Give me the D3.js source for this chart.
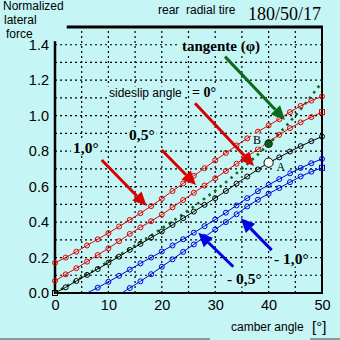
<!DOCTYPE html>
<html><head><meta charset="utf-8">
<script src="https://cdn.jsdelivr.net/npm/d3@7"></script>
<style>
html,body{margin:0;padding:0;background:#c6f5f5;}
svg{display:block;}
text{white-space:pre;}
</style></head><body>
<svg id="chart" width="340" height="340"></svg>
<script>
// Camber angle steps (degrees) shared by the full-range curves
const camber = [0,2,4,6,8,10,12,14,16,18,20,22,24,26,28,30,32,34,36,38,40,42,44,46,48,50];

// Normalized lateral force per sideslip angle
const slipPos10 = [0.170,0.200,0.233,0.268,0.303,0.338,0.375,0.412,0.450,0.490,0.532,0.575,0.618,0.661,0.704,0.748,0.790,0.832,0.872,0.910,0.945,0.980,1.020,1.055,1.085,1.108];
const slipPos05 = [0.068,0.105,0.140,0.177,0.214,0.252,0.292,0.333,0.370,0.405,0.442,0.483,0.524,0.565,0.606,0.647,0.688,0.729,0.770,0.811,0.852,0.892,0.930,0.962,0.992,1.020];
const slipZero  = [0,0.032,0.068,0.102,0.135,0.171,0.205,0.243,0.277,0.312,0.347,0.384,0.422,0.459,0.497,0.535,0.575,0.617,0.657,0.697,0.735,0.765,0.798,0.828,0.856,0.882];

const camberNeg05 = [6,8,10,12,14,16,18,20,22,24,26,28,30,32,34,36,38,40,42,44,46,48,50];
const slipNeg05   = [0,0.030,0.063,0.097,0.132,0.167,0.200,0.234,0.268,0.303,0.340,0.377,0.414,0.453,0.494,0.535,0.574,0.610,0.642,0.675,0.705,0.732,0.756];

const camberNeg10 = [12.5,14,16,18,20,22,24,26,28,30,32,34,36,38,40,42,44,46,48,50];
const slipNeg10   = [0,0.028,0.066,0.106,0.148,0.190,0.232,0.274,0.316,0.358,0.400,0.444,0.488,0.526,0.560,0.592,0.625,0.657,0.684,0.706];

// Tangent of the camber angle
const tangent = [0,0.035,0.070,0.105,0.141,0.176,0.213,0.249,0.287,0.325,0.364,0.404,0.445,0.488,0.532,0.577,0.625,0.675,0.727,0.781,0.839,0.900,0.966,1.036,1.110,1.190];

// Reference points at 40 degrees camber
const pointA = {x: 40, y: 0.735};
const pointB = {x: 40, y: 0.842};

const xTicks = [0,10,20,30,40,50];
const yTicks = [0.0,0.2,0.4,0.6,0.8,1.0,1.2,1.4];
const xGrid = [5,10,15,20,25,30,35,40,45];
const yGrid = [0.1,0.2,0.3,0.4,0.5,0.6,0.7,0.8,0.9,1.0,1.1,1.2,1.3,1.4];

const BG = "#c6f5f5";
const RED = "#e00000", BLUE = "#0000e0", GREEN = "#0b6a1c", BLACK = "#000";

const series = [
  {xs: camber,      ys: slipPos10, color: RED,   square: -1},
  {xs: camber,      ys: slipPos05, color: RED,   square: camber.length - 1},
  {xs: camber,      ys: slipZero,  color: BLACK, square: 0, skipX: 40},
  {xs: camberNeg05, ys: slipNeg05, color: BLUE,  square: -1},
  {xs: camberNeg10, ys: slipNeg10, color: BLUE,  square: camberNeg10.length - 1}
];

// Annotation arrows, tail and tip in data units
const arrows = [
  {from: [8.74, 0.750],  to: [17.17, 0.491], color: "#d80000"},
  {from: [19.98, 0.806], to: [26.40, 0.609], color: "#d80000"},
  {from: [26.22, 1.070], to: [37.27, 0.716], color: "#d80000"},
  {from: [31.84, 1.333], to: [43.07, 0.976], color: GREEN},
  {from: [33.39, 0.148], to: [26.84, 0.340], color: BLUE},
  {from: [40.58, 0.242], to: [34.78, 0.421], color: BLUE}
];

const svg = d3.select("#chart");
const x = d3.scaleLinear().domain([0, 50]).range([55, 322]);
const y = d3.scaleLinear().domain([0, 1.5]).range([293, 27]);

// dotted grid
const grid = svg.append("g").attr("stroke", "#000").attr("stroke-width", 1.2).attr("stroke-dasharray", "2,3");
grid.selectAll("line.v").data(xGrid).join("line").attr("class", "v")
  .attr("x1", d => x(d)).attr("x2", d => x(d)).attr("y1", y(0)).attr("y2", y(1.5));
grid.selectAll("line.h").data(yGrid).join("line").attr("class", "h")
  .attr("x1", x(0)).attr("x2", x(50)).attr("y1", d => y(d)).attr("y2", d => y(d));

// frame
svg.append("line").attr("x1", x(0)).attr("x2", x(0)).attr("y1", y(1.42)).attr("y2", y(0) + 1)
  .attr("stroke", "#000").attr("stroke-width", 2.5);
svg.append("line").attr("x1", x(0)).attr("x2", x(50) + 1).attr("y1", y(0)).attr("y2", y(0))
  .attr("stroke", "#000").attr("stroke-width", 2);
svg.append("line").attr("x1", x(50)).attr("x2", x(50)).attr("y1", y(1.5) - 1).attr("y2", y(0))
  .attr("stroke", "#000").attr("stroke-width", 2);
svg.append("line").attr("x1", x(2.2)).attr("x2", x(50) + 1).attr("y1", y(1.5)).attr("y2", y(1.5))
  .attr("stroke", "#000").attr("stroke-width", 3);

// axes labels through d3 axes
const yAxis = svg.append("g").attr("transform", `translate(${x(0)},0)`)
  .call(d3.axisLeft(y).tickValues(yTicks).tickSize(0).tickPadding(6).tickFormat(d3.format(".1f")));
const xAxis = svg.append("g").attr("transform", `translate(0,${y(0)})`)
  .call(d3.axisBottom(x).tickValues(xTicks).tickSize(0).tickPadding(7).tickFormat(d3.format("d")));
[yAxis, xAxis].forEach(g => {
  g.select(".domain").remove();
  g.selectAll("text").attr("font-family", "Liberation Sans, Arial, sans-serif")
    .attr("font-size", 14.5).attr("fill", "#000");
});

// text helper; masked labels get a background patch hiding the grid
const sans = "Liberation Sans, Arial, sans-serif";
const serif = "Liberation Serif, Times New Roman, serif";
const labelLayer = svg.append("g");
function txt(t, px, py, opts) {
  const o = Object.assign({font: sans, size: 12, weight: "normal", anchor: "start", mask: false}, opts || {});
  const g = labelLayer.append("g");
  const el = g.append("text").attr("x", px).attr("y", py).text(t)
    .attr("font-family", o.font).attr("font-size", o.size)
    .attr("font-weight", o.weight).attr("text-anchor", o.anchor).attr("fill", "#000");
  if (o.mask) {
    const b = el.node().getBBox();
    g.insert("rect", "text").attr("x", b.x - 2).attr("y", b.y + 1)
      .attr("width", b.width + 4).attr("height", b.height - 1).attr("fill", BG);
  }
  return el;
}

// tangent curve
const line = d3.line().x(d => x(d[0])).y(d => y(d[1]));
svg.append("path").datum(camber.map((c, i) => [c, tangent[i]]))
  .attr("d", line).attr("fill", "none").attr("stroke", GREEN)
  .attr("stroke-width", 2.6).attr("stroke-dasharray", "2.5,4.5");

// curves with markers
series.forEach(s => {
  const pts = s.xs.map((c, i) => [c, s.ys[i], i]);
  svg.append("path").datum(pts).attr("d", line)
    .attr("fill", "none").attr("stroke", s.color).attr("stroke-width", 1);
  const mk = pts.filter(p => p[1] > 0.001 || p[2] === s.square).filter(p => p[0] !== s.skipX);
  svg.selectAll(null).data(mk.filter(p => p[2] !== s.square)).join("circle")
    .attr("cx", p => x(p[0])).attr("cy", p => y(p[1])).attr("r", 2.5)
    .attr("fill", "none").attr("stroke", s.color).attr("stroke-width", 1);
  svg.selectAll(null).data(mk.filter(p => p[2] === s.square)).join("rect")
    .attr("x", p => x(p[0]) - 2.5).attr("y", p => y(p[1]) - 2.5)
    .attr("width", 5).attr("height", 5)
    .attr("fill", "none").attr("stroke", s.color).attr("stroke-width", 1);
});

// points A and B
svg.append("circle").attr("cx", x(pointA.x)).attr("cy", y(pointA.y)).attr("r", 4.6)
  .attr("fill", "#fff").attr("stroke", "#000").attr("stroke-width", 1);
svg.append("circle").attr("cx", x(pointB.x)).attr("cy", y(pointB.y)).attr("r", 3.8)
  .attr("fill", "#0c5a1c").attr("stroke", "#06300e").attr("stroke-width", 1);

// labels
txt("Normalized", 3, 9.5);
txt("lateral", 4, 23.5);
txt("force", 6, 37.5);
txt("rear  radial tire", 158, 14);
txt("180/50/17", 248, 19.5, {font: serif, size: 18});
txt("tangente (φ)", 182, 51, {font: serif, size: 15, weight: "bold", mask: true});
txt("sideslip angle", 109, 96.5, {mask: true});
txt("= 0°", 192, 96.5, {font: serif, size: 14, weight: "bold", mask: true});
txt("1,0°", 73, 153, {font: serif, size: 15.5, weight: "bold", mask: true});
txt("0,5°", 129, 140, {font: serif, size: 15.5, weight: "bold", mask: true});
txt("- 1,0°", 274, 263.5, {font: serif, size: 15.5, weight: "bold", mask: true});
txt("- 0,5°", 227, 283.5, {font: serif, size: 15.5, weight: "bold", mask: true});
txt("A", 276.5, 171, {font: serif, size: 12, mask: true});
txt("B", 253, 143.5, {font: serif, size: 12, mask: true});
txt("camber angle", 231, 331, {size: 12});
txt("[°]", 312, 332, {size: 15});
labelLayer.raise();

// arrows drawn over labels and curves
arrows.forEach(a => {
  const x1 = x(a.from[0]), y1 = y(a.from[1]), x2 = x(a.to[0]), y2 = y(a.to[1]);
  const ang = Math.atan2(y2 - y1, x2 - x1);
  const L = 14, W = 6.5;
  const bx = x2 - L * Math.cos(ang), by = y2 - L * Math.sin(ang);
  svg.append("line").attr("x1", x1).attr("y1", y1).attr("x2", bx).attr("y2", by)
    .attr("stroke", a.color).attr("stroke-width", 3);
  const nx = -Math.sin(ang) * W, ny = Math.cos(ang) * W;
  svg.append("path")
    .attr("d", `M${x2},${y2}L${bx + nx},${by + ny}L${bx - nx},${by - ny}Z`)
    .attr("fill", a.color);
});

// bottom border
svg.append("rect").attr("x", 0).attr("y", 338).attr("width", 210).attr("height", 2).attr("fill", "#8a9a9a");
svg.append("rect").attr("x", 310).attr("y", 338).attr("width", 30).attr("height", 2).attr("fill", "#8a9a9a");
</script></body></html>
